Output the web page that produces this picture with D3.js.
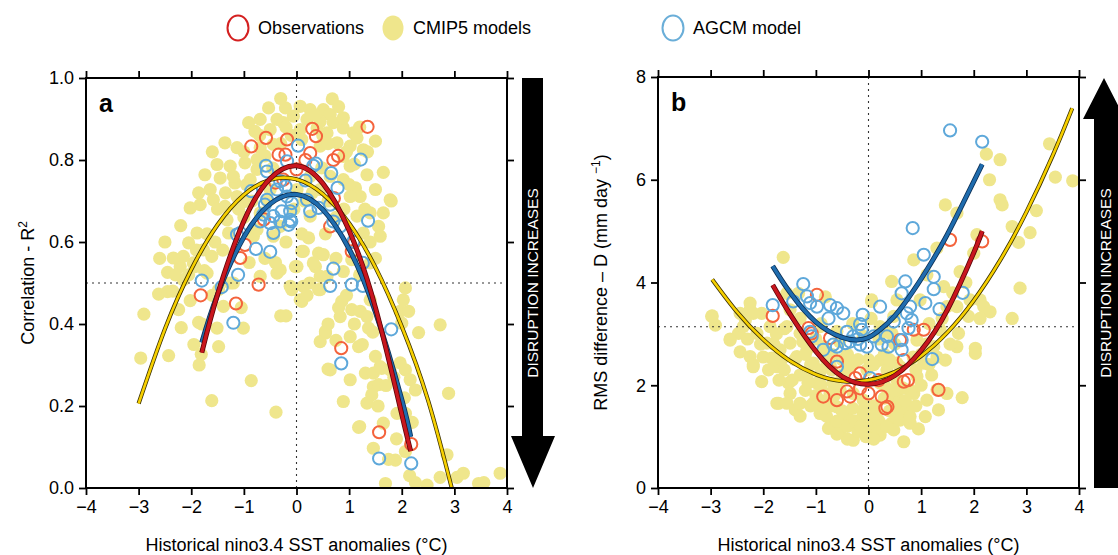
<!DOCTYPE html>
<html>
<head>
<meta charset="utf-8">
<style>
  * { margin:0; padding:0 }
  body { background:#fff; overflow:hidden; }
  svg text { font-family: "Liberation Sans", Arial, Helvetica, sans-serif; }
</style>
<script src="https://cdn.jsdelivr.net/npm/d3@7"></script>
</head>
<body>
<script>
var width = 1118, height = 555;

// ---- tick values / labels
var xTicks = [-4, -3, -2, -1, 0, 1, 2, 3, 4];
var yTicksA = [0, 0.2, 0.4, 0.6, 0.8, 1.0];
var yTicksB = [0, 2, 4, 6, 8];
var xTitle = "Historical nino3.4 SST anomalies (\u00B0C)";
var arrowText = "DISRUPTION INCREASES";
var legendNames = ["Observations", "CMIP5 models", "AGCM model"];

// ---- panel a: correlation R^2
var cmipA = [[0.13,0.577],[0.42,0.573],[0.51,0.569],[-0.02,0.54],[0.36,0.54],[0.45,0.516],[0.13,0.492],[-0.09,0.484],[0.10,0.455],[0.42,0.484],
  [0.86,0.455],[0.83,0.418],[1.05,0.435],[1.21,0.431],[1.34,0.418],[1.40,0.459],[1.37,0.39],[0.55,0.378],[0.45,0.357],[1.02,0.369],
  [1.18,0.345],[1.50,0.321],[1.59,0.296],[1.31,0.28],[1.46,0.28],[1.62,0.292],[1.78,0.288],[1.97,0.305],[2.07,0.288],[2.16,0.264],
  [2.26,0.239],[1.46,0.247],[1.56,0.252],[1.02,0.264],[0.64,0.288],[1.43,0.227],[0.89,0.211],[1.34,0.207],[1.65,0.158],[1.18,0.148],
  [1.46,0.097],[1.88,0.068],[2.07,0.089],[1.97,0.431],[2.13,0.431],[2.03,0.459],[2.07,0.488],[2.00,0.402],[2.32,0.379],[2.73,0.398],
  [2.89,0.231],[2.86,0.081],[1.69,0.011],[2.26,0.013],[2.48,0.007],[2.73,0.026],[3.05,0.026],[3.17,0.036],[3.46,0.011],[3.56,0.013],
  [3.87,0.036],[1.91,0.182],[2.07,0.182],
  [-2.90,0.424],[-2.96,0.317],[-2.43,0.323],[-2.19,0.391],[-2.62,0.473],[-2.45,0.479],[-2.45,0.526],[-2.02,0.457],[-2.24,0.435],[-1.86,0.404],
  [-1.51,0.39],[-1.48,0.345],[-1.81,0.326],[-1.61,0.213],[-0.86,0.262],[-0.39,0.185],[-1.01,0.39],[-0.30,0.42],[-0.69,0.516],[-0.37,0.524],
  [0.01,0.54],[-0.12,0.492],[0.07,0.459],[0.45,0.484],[0.55,0.382],[-2.15,0.508],[-2.21,0.54],[-1.96,0.549],[-1.70,0.524],[-1.39,0.443],
  [-1.48,0.484],[-1.26,0.50],
  [0.68,0.949],[-0.53,0.927],[-0.21,0.927],[0.07,0.931],[0.26,0.923],[0.51,0.923],[0.64,0.911],[-0.91,0.891],[-0.69,0.899],[-0.37,0.899],
  [-0.06,0.907],[0.20,0.899],[0.45,0.894],[0.70,0.891],[0.89,0.878],[1.08,0.866],[1.50,0.846],[-0.79,0.87],[-0.50,0.874],[0.07,0.874],
  [0.58,0.866],[-1.36,0.842],[-1.13,0.83],[-0.69,0.83],[-0.44,0.838],[0.45,0.834],[1.02,0.834],[1.27,0.825],[1.15,0.854],[-1.51,0.789],
  [-1.26,0.785],[-0.98,0.793],[-0.75,0.801],[0.48,0.781],[1.02,0.785],[1.34,0.764],[-1.74,0.764],[-1.45,0.756],[-1.17,0.744],[-1.64,0.728],
  [-1.86,0.72],[1.12,0.732],[1.21,0.711],[1.02,0.711],[1.78,0.703],[-1.58,0.703],[-1.83,0.691],[-2.02,0.683],[-1.36,0.687],[-0.98,0.699],
  [1.15,0.663],[1.40,0.671],[1.56,0.638],[1.59,0.614],[-1.89,0.622],[-2.05,0.598],[-1.77,0.581],[-2.15,0.565],[-2.34,0.561],[-1.93,0.54],
  [-1.61,0.565],[-1.29,0.622],[-0.82,0.614],[0.10,0.577],[-0.31,0.638],[0.23,0.61],[0.32,0.549],[-0.31,0.532],[0.58,0.516],[0.89,0.528],
  [1.05,0.557],[1.40,0.549],[-0.44,0.614],[-0.69,0.671],[0.26,0.663],[0.01,0.728],[0.45,0.728],[0.26,0.76],[0.64,0.76],[0.89,0.752],
  [-0.50,0.728],[-0.88,0.752],[-1.13,0.711],[-1.32,0.654],[-0.75,0.777],[0.89,0.809],[0.77,0.842],[-0.25,0.891],[0.39,0.878],[0.89,0.903],
  [1.50,0.728],[1.27,0.622],[1.65,0.671],
  [-0.10,0.86],[0.10,0.85],[-0.30,0.84],[0.50,0.86],[0.60,0.84],[-0.60,0.81],[-0.45,0.78],[0.15,0.70],[0.30,0.72],[-0.05,0.68],
  [0.10,0.62],[-0.20,0.60],[0.55,0.62],[0.75,0.66],[0.90,0.68],[1.00,0.74],[1.10,0.79],[0.95,0.82],[-1.00,0.66],[-0.85,0.70],
  [-0.75,0.63],[-0.90,0.55],[-0.60,0.56],[-0.40,0.55],[-1.20,0.50],[-1.60,0.47],[-1.75,0.53],[-2.30,0.52],[-2.60,0.56],[-1.90,0.58],
  [-1.70,0.62],[-1.50,0.68],[-1.35,0.72],[-1.20,0.76],[-0.95,0.74],[1.30,0.68],[1.40,0.60],[1.50,0.56],[1.20,0.52],[0.95,0.47],
  [0.80,0.44],[0.60,0.40],[1.10,0.40],[1.25,0.35],[1.45,0.38],[0.75,0.36],[1.70,0.25],[1.55,0.20],[1.85,0.27],[2.05,0.22],
  [2.20,0.16],[1.75,0.07],[1.90,0.12],[2.15,0.03],[0.60,0.29],[1.20,0.15],[-1.80,0.40],[-1.95,0.35],[-1.85,0.30],[-1.05,0.44],
  [-0.20,0.42],[0.20,0.47],[0.25,0.50],[1.80,0.70],
  [-2.50,0.60],[-2.20,0.64],[-2.35,0.48],[-2.05,0.52],[-1.55,0.60],[-1.40,0.58],[-1.10,0.68],[-0.70,0.86],[-0.20,0.88],[0.35,0.91],
  [0.80,0.93],[1.20,0.88],[1.35,0.82],[1.65,0.77],[-0.55,0.70],[0.60,0.70],[0.75,0.56],[-1.00,0.82],[-1.60,0.82],[-0.30,0.95]];

var obsA = [[-0.86,0.833],[-0.58,0.854],[-0.18,0.85],[0.30,0.876],[0.37,0.858],[1.35,0.881],[-0.34,0.813],[-0.21,0.813],[0.26,0.817],[0.17,0.80],
  [0.70,0.80],[0.79,0.81],[0.0,0.777],[-0.25,0.752],[0.64,0.638],[0.71,0.707],[-0.98,0.593],[-1.07,0.561],[-0.72,0.496],[1.05,0.577],
  [1.10,0.60],[-1.82,0.47],[-1.15,0.45],[0.85,0.341],[1.57,0.136],[2.18,0.107],[-0.62,0.655],[-0.40,0.745]];

var agcmA = [[0.03,0.835],[-0.58,0.786],[-0.56,0.772],[-0.18,0.797],[0.37,0.791],[0.32,0.786],[0.66,0.768],[1.22,0.801],[0.17,0.75],[0.78,0.732],
  [-0.86,0.724],[-0.31,0.748],[-0.21,0.736],[-0.37,0.728],[-0.56,0.703],[-0.60,0.691],[-0.18,0.711],[-0.09,0.695],[0.20,0.703],[0.42,0.683],
  [0.26,0.675],[0.64,0.691],[-0.63,0.667],[-0.44,0.663],[-0.28,0.675],[-0.12,0.675],[-0.50,0.646],[-0.31,0.65],[-0.15,0.642],[-0.12,0.654],
  [-0.69,0.65],[-0.44,0.622],[-1.13,0.618],[-1.07,0.622],[-0.77,0.583],[-0.50,0.576],[0.70,0.65],[0.83,0.638],[1.08,0.601],[1.36,0.652],
  [-1.11,0.52],[0.70,0.535],[-1.80,0.506],[-1.42,0.49],[0.64,0.493],[1.05,0.496],[1.26,0.493],[1.26,0.549],[1.80,0.387],[0.85,0.304],
  [1.57,0.072],[2.18,0.06],[-1.20,0.403],[-0.10,0.65]];

// fitted curves
var cmipFitA = [[-3,0.206],[-2.5,0.388],[-2,0.533],[-1.5,0.642],[-1,0.715],[-0.5,0.752],[0,0.753],[0.5,0.717],[1,0.646],[1.5,0.538],[2,0.394],[2.5,0.214],[2.95,0.0]];
var obsFitA = [[-1.8,0.33],[-1.5,0.472],[-1,0.651],[-0.5,0.755],[0,0.786],[0.5,0.743],[1,0.628],[1.5,0.44],[2,0.18],[2.17,0.09]];
var agcmFitA = [[-1.8,0.355],[-1.5,0.472],[-1,0.612],[-0.5,0.693],[0,0.716],[0.5,0.679],[1,0.583],[1.5,0.429],[2,0.216],[2.17,0.125]];

// ---- panel b: RMS difference D
var cmipB = [[-1.62,4.49],[-2.97,3.35],[-2.91,3.17],[-2.63,2.90],[-2.44,2.65],[-2.25,3.47],[-2.34,3.27],[-2.47,3.01],[-2.12,3.01],[-2.25,2.56],
  [-2.19,2.36],[-2.03,2.07],[-1.93,2.82],[-1.84,2.53],[-1.68,2.69],[-1.74,2.36],[-1.52,2.04],[-1.71,1.65],[-1.39,1.52],[-1.30,1.65],
  [-1.49,1.84],[-1.30,3.01],[-1.55,3.14],[-1.49,2.82],[-1.36,2.56],[-1.17,2.69],[-1.05,2.43],[-1.17,2.17],[-0.98,2.04],[-1.05,1.65],
  [-0.92,1.45],[-0.76,1.16],[-0.54,1.13],[-0.29,0.93],[0.03,1.13],[0.22,1.03],[0.44,1.26],[0.67,0.90],[0.48,1.71],[0.60,1.65],
  [-0.60,1.58],[-0.41,1.39],[-0.10,1.52],[-0.16,1.32],[0.10,1.39],[-0.67,2.04],[-0.41,2.30],[-0.03,2.30],[0.22,2.49],[0.35,2.30],
  [0.54,2.10],[0.54,2.43],[0.22,3.14],[0.06,3.63],[0.44,4.02],[-0.86,2.69],[-0.92,3.14],[-1.87,3.14],[-2.03,3.40],[-1.33,3.79],
  [-1.49,3.47],[-0.73,1.84],[-0.29,1.84],[0.22,2.04],[0.41,1.91],[0.73,1.52],[0.79,1.26],[0.60,1.32],[-0.73,2.40],[-0.10,1.71],
  [-0.54,1.91],
  [2.24,6.50],[2.50,6.39],[2.30,6.00],[3.44,6.70],[3.55,6.05],[3.88,5.98],[2.50,5.61],[2.54,5.51],[3.19,5.40],[1.46,5.51],
  [1.68,5.35],[2.73,5.09],[3.07,4.97],[2.85,4.78],[2.06,4.93],[2.88,3.89],[2.73,3.30],[2.00,4.57],[1.74,4.21],[1.30,4.67],
  [0.86,4.44],[1.11,4.15],[1.43,3.92],[1.68,3.53],[1.93,3.66],[2.12,3.66],[2.19,3.53],[2.31,3.43],[2.12,3.30],[1.90,3.34],
  [1.71,3.01],[1.68,2.75],[2.03,2.72],[2.03,2.62],[1.46,2.49],[1.49,1.84],[1.78,1.76],[1.11,1.71],[1.33,1.52],[1.08,1.39],
  [0.79,1.39],[0.48,1.13],[0.92,2.17],[1.05,2.43],[1.24,2.75],[1.36,3.08],[0.92,2.88],[0.98,3.66],[1.49,3.53],[0.54,3.66],
  [0.48,3.34],[0.41,3.01],[0.60,2.36],[0.86,1.84],[0.60,1.71],[1.30,1.91],
  [-2.98,3.34],[-2.63,2.88],[-2.25,3.60],[-2.19,3.40],[-2.19,2.40],[-1.74,1.65],[-0.73,1.19],[0.03,1.03],[-1.55,3.79],[-0.82,3.72],
  [0.06,3.66],[-2.44,3.40],[-2.38,3.14],
  [-1.30,2.20],[-1.20,1.90],[-1.00,1.80],[-0.90,2.30],[-0.80,2.50],[-0.70,2.60],[-0.50,2.50],[-0.40,2.60],[-0.30,2.40],[-0.20,2.50],
  [0.00,2.50],[0.10,2.40],[0.30,2.60],[0.40,2.50],[0.50,2.80],[0.20,2.90],[-0.10,2.95],[-0.50,2.20],[-0.70,2.30],[-0.90,2.00],
  [-1.10,2.40],[-1.20,2.60],[-1.40,2.50],[-1.60,2.30],[-1.70,2.10],[-1.90,2.30],[-1.10,1.60],[-0.80,1.40],[-0.60,1.30],[-0.40,1.20],
  [-0.20,1.10],[0.00,1.25],[0.20,1.30],[0.40,1.50],[0.50,1.90],[0.30,2.00],[0.10,1.60],[-0.10,1.45],[-0.30,1.55],[-0.50,1.50],
  [-0.70,1.60],[-0.90,1.70],[0.70,1.70],[0.80,1.90],[0.90,2.30],[1.00,2.60],[1.10,2.80],[1.00,2.00],[1.20,2.20],[0.90,1.60],
  [0.20,1.10],[-0.05,1.00],[-0.40,0.95],[0.10,0.95],[0.35,1.20],[0.55,1.45],[-0.60,1.05],[-1.30,1.40],[-1.55,1.65],[-2.00,2.55],
  [-2.30,2.90],[-1.80,2.80],[-1.00,2.90],[-0.60,3.05],[0.30,3.10],[0.45,3.00],[0.05,3.30],[-0.30,3.20],[-0.90,3.20],[-1.30,3.30],
  [-1.60,3.10],
  [-1.75,3.00],[-2.05,2.80],[-1.65,2.50],[-1.25,2.85],[-1.45,2.10],[-1.15,2.05],[-0.85,1.55],[-0.65,1.80],[-0.25,1.30],[0.15,1.45],
  [0.30,1.75],[0.65,1.95],[0.85,2.55],[1.15,2.40],[1.30,2.55],[1.55,2.80],[1.40,3.30],[1.15,3.20],[1.60,3.80],[1.85,4.00],
  [0.95,1.15],[-0.15,1.20],[-0.85,2.75],[-0.55,2.85]];

var obsB = [[-1.82,3.35],[-0.98,3.76],[-1.08,3.01],[-1.14,3.11],[-0.73,2.92],[-0.60,2.46],[-0.16,2.23],[-0.25,2.14],[-0.86,1.78],[-0.60,1.71],
  [-0.35,1.78],[-0.41,1.88],[0.0,1.84],[-0.16,1.94],[0.25,1.78],[0.32,1.55],[0.36,1.58],[0.60,2.88],[0.67,2.49],[0.67,2.07],
  [0.75,2.10],[0.19,2.10],[1.55,4.83],[2.16,4.80],[1.05,3.08],[0.86,3.08],[1.33,1.91]];

var agcmB = [[-1.24,3.97],[-1.82,3.56],[-1.43,3.63],[-1.17,3.73],[-1.11,3.60],[-0.98,3.53],[-0.73,3.56],[-0.60,3.50],[-0.48,3.40],[-0.76,3.30],
  [-0.11,3.37],[-0.16,3.19],[-0.13,3.08],[0.22,3.53],[0.48,3.24],[0.70,4.02],[0.63,3.79],[-0.41,3.04],[-0.29,2.95],[-0.44,2.82],
  [-0.67,2.79],[-0.86,2.69],[-0.60,2.75],[-0.16,2.79],[-0.03,2.75],[0.10,2.95],[0.25,2.79],[0.38,2.75],[-0.60,2.36],[-1.11,3.04],
  [-1.08,2.95],[0.03,2.14],[1.55,6.96],[2.16,6.74],[0.84,5.06],[1.05,4.54],[1.79,3.80],[1.24,4.11],[1.24,3.87],[1.08,3.60],
  [1.35,3.48],[0.79,3.53],[0.73,3.40],[0.82,3.27],[0.76,3.11],[0.63,2.88],[0.63,2.69],[0.35,2.95],[1.21,2.51],[-0.20,2.90],
  [-0.35,2.85]];

var cmipFitB = [[-2.97,4.06],[-2.5,3.43],[-2,2.89],[-1.5,2.48],[-1,2.21],[-0.5,2.08],[0,2.10],[0.5,2.26],[1,2.57],[1.5,3.03],[2,3.65],[2.5,4.43],[3,5.37],[3.5,6.47],[3.87,7.39]];
var obsFitB = [[-1.82,3.95],[-1.5,3.40],[-1,2.66],[-0.5,2.17],[0,2.02],[0.5,2.19],[1,2.68],[1.5,3.47],[2,4.58],[2.16,5.0]];
var agcmFitB = [[-1.82,4.32],[-1.5,3.82],[-1,3.23],[-0.5,2.93],[-0.22,2.88],[0,2.93],[0.22,3.08],[0.5,3.35],[0.86,3.85],[1.2,4.40],[1.49,4.92],[1.8,5.55],[2.16,6.30]];

// ---- colours
var colCmip = "#efe68c", colObs = "#f4633c", colAgcm = "#5ea8da";
var colObsLeg = "#d42020", colAgcmLeg = "#6aaed8";

var svg = d3.select("body").append("svg")
    .attr("width", width)
    .attr("height", height);

var panels = [
  { id: "a", left: 86, right: 507, top: 78, bottom: 488, ydom: [0, 1], yTicks: yTicksA,
    yFmt: d3.format(".1f"), cmip: cmipA, obs: obsA, agcm: agcmA,
    fits: [cmipFitA, agcmFitA, obsFitA], hline: 0.5,
    ytitle: ["Correlation - R", "2", ""], ytx: 34 },
  { id: "b", left: 658, right: 1079, top: 77, bottom: 488, ydom: [0, 8], yTicks: yTicksB,
    yFmt: d3.format("d"), cmip: cmipB, obs: obsB, agcm: agcmB,
    fits: [cmipFitB, agcmFitB, obsFitB], hline: 3.14,
    ytitle: ["RMS difference \u2013 D (mm day ", "\u22121", ")"], ytx: 607 }
];

var fitCols = [["#f7d000", "#3a3000"], ["#1f6cae", "#0b2f55"], ["#c8161e", "#5a0508"]];

function minusFmt(d) { return d < 0 ? "\u2212" + Math.abs(d) : String(d); }

panels.forEach(function(p) {
  var x = d3.scaleLinear().domain([-4, 4]).range([p.left, p.right]);
  var y = d3.scaleLinear().domain(p.ydom).range([p.bottom, p.top]);
  var g = svg.append("g");

  g.append("clipPath").attr("id", "clip" + p.id)
    .append("rect").attr("x", p.left).attr("y", p.top)
    .attr("width", p.right - p.left).attr("height", p.bottom - p.top);

  var plot = g.append("g").attr("clip-path", "url(#clip" + p.id + ")");

  plot.selectAll("circle.cmip").data(p.cmip).enter().append("circle")
    .attr("class", "cmip")
    .attr("cx", function(d) { return x(d[0]); })
    .attr("cy", function(d) { return y(d[1]); })
    .attr("r", 6.6)
    .attr("fill", colCmip);

  // dotted reference lines
  plot.append("line").attr("x1", x(0)).attr("x2", x(0)).attr("y1", p.top).attr("y2", p.bottom)
    .attr("stroke", "#333").attr("stroke-width", 1.1).attr("stroke-dasharray", "2,4");
  plot.append("line").attr("x1", p.left).attr("x2", p.right).attr("y1", y(p.hline)).attr("y2", y(p.hline))
    .attr("stroke", "#333").attr("stroke-width", 1.1).attr("stroke-dasharray", "2,4");

  plot.selectAll("circle.obs").data(p.obs).enter().append("circle")
    .attr("class", "obs")
    .attr("cx", function(d) { return x(d[0]); })
    .attr("cy", function(d) { return y(d[1]); })
    .attr("r", 6.1).attr("fill", "none")
    .attr("stroke", colObs).attr("stroke-width", 2);

  plot.selectAll("circle.agcm").data(p.agcm).enter().append("circle")
    .attr("class", "agcm")
    .attr("cx", function(d) { return x(d[0]); })
    .attr("cy", function(d) { return y(d[1]); })
    .attr("r", 6.1).attr("fill", "none")
    .attr("stroke", colAgcm).attr("stroke-width", 2);

  var line = d3.line()
    .x(function(d) { return x(d[0]); })
    .y(function(d) { return y(d[1]); })
    .curve(d3.curveNatural);

  p.fits.forEach(function(f, i) {
    plot.append("path").datum(f).attr("d", line).attr("fill", "none")
      .attr("stroke", fitCols[i][1]).attr("stroke-width", i === 0 ? 4.2 : 5);
    plot.append("path").datum(f).attr("d", line).attr("fill", "none")
      .attr("stroke", fitCols[i][0]).attr("stroke-width", i === 0 ? 2.6 : 3.4);
  });

  // axes on four sides, outward ticks
  var axB = g.append("g").attr("transform", "translate(0," + p.bottom + ")")
    .call(d3.axisBottom(x).tickValues(xTicks).tickSize(7).tickSizeOuter(0).tickPadding(5).tickFormat(minusFmt));
  var axT = g.append("g").attr("transform", "translate(0," + p.top + ")")
    .call(d3.axisTop(x).tickValues(xTicks).tickSize(7).tickSizeOuter(0).tickFormat(""));
  var axL = g.append("g").attr("transform", "translate(" + p.left + ",0)")
    .call(d3.axisLeft(y).tickValues(p.yTicks).tickSize(7).tickSizeOuter(0).tickPadding(5).tickFormat(p.yFmt));
  var axR = g.append("g").attr("transform", "translate(" + p.right + ",0)")
    .call(d3.axisRight(y).tickValues(p.yTicks).tickSize(7).tickSizeOuter(0).tickFormat(""));
  [axB, axT, axL, axR].forEach(function(a) {
    a.select(".domain").remove();
    a.selectAll(".tick line").attr("stroke", "#000").attr("stroke-width", 1.8);
    a.selectAll(".tick text").attr("fill", "#000").style("font-size", "18px");
  });

  g.append("rect").attr("x", p.left).attr("y", p.top)
    .attr("width", p.right - p.left).attr("height", p.bottom - p.top)
    .attr("fill", "none").attr("stroke", "#000").attr("stroke-width", 2);

  g.append("text").attr("x", p.left + 13).attr("y", p.top + 34)
    .style("font-size", "25px").style("font-weight", "bold").text(p.id);

  g.append("text").attr("x", (p.left + p.right) / 2).attr("y", 551)
    .attr("text-anchor", "middle").style("font-size", "18px").text(xTitle);

  var yt = g.append("text")
    .attr("transform", "translate(" + p.ytx + "," + ((p.top + p.bottom) / 2) + ") rotate(-90)")
    .attr("text-anchor", "middle").style("font-size", "18px");
  yt.append("tspan").text(p.ytitle[0]);
  yt.append("tspan").attr("dy", -7).style("font-size", "12px").text(p.ytitle[1]);
  yt.append("tspan").attr("dy", 7).text(p.ytitle[2]);
});

// disruption arrows
var arrowA = svg.append("g");
arrowA.append("path")
  .attr("d", "M522,78 L543,78 L543,436 L555,436 L533,488 L511,436 L522,436 Z")
  .attr("fill", "#000");
arrowA.append("text")
  .attr("transform", "translate(538,283) rotate(-90)")
  .attr("text-anchor", "middle").attr("fill", "#fff")
  .style("font-size", "15.5px").text(arrowText);

var arrowB = svg.append("g");
arrowB.append("path")
  .attr("d", "M1094,488 L1094,119 L1083,119 L1104,78 L1125,119 L1118,119 L1118,488 Z")
  .attr("fill", "#000");
arrowB.append("text")
  .attr("transform", "translate(1111,283) rotate(-90)")
  .attr("text-anchor", "middle").attr("fill", "#fff")
  .style("font-size", "15.5px").text(arrowText);

// legend
var legX = [238, 393, 673];
var leg = svg.append("g");
leg.append("ellipse").attr("cx", legX[0]).attr("cy", 28).attr("rx", 10.5).attr("ry", 12.5)
  .attr("fill", "none").attr("stroke", colObsLeg).attr("stroke-width", 2);
leg.append("ellipse").attr("cx", legX[1]).attr("cy", 28).attr("rx", 10.5).attr("ry", 12.5)
  .attr("fill", colCmip);
leg.append("ellipse").attr("cx", legX[2]).attr("cy", 28).attr("rx", 10.5).attr("ry", 12.5)
  .attr("fill", "none").attr("stroke", colAgcmLeg).attr("stroke-width", 2);
legendNames.forEach(function(n, i) {
  leg.append("text").attr("x", legX[i] + 20).attr("y", 34)
    .style("font-size", "18px").text(n);
});
</script>
</body>
</html>
